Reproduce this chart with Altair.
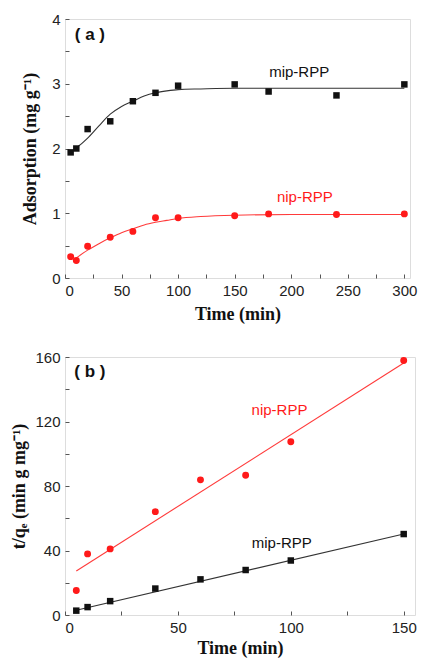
import altair as alt
import pandas as pd

# ---------------- Panel (a) data ----------------
a_time = [5, 10, 20, 40, 60, 80, 100, 150, 180, 240, 300]
a_mip = [1.94, 2.00, 2.30, 2.42, 2.73, 2.86, 2.97, 2.99, 2.88, 2.82, 2.99]
a_nip = [0.33, 0.27, 0.49, 0.63, 0.72, 0.93, 0.93, 0.96, 0.99, 0.98, 0.99]

a_mip_fit_x = [8, 10, 15, 20, 30, 40, 50, 60, 70, 80, 90, 100, 120, 150, 200, 300]
a_mip_fit_y = [1.98, 2.01, 2.08, 2.16, 2.35, 2.53, 2.65, 2.73, 2.81, 2.86, 2.89, 2.91, 2.92, 2.93, 2.93, 2.93]
a_nip_fit_x = [10, 20, 30, 40, 50, 60, 70, 80, 90, 100, 120, 150, 200, 300]
a_nip_fit_y = [0.31, 0.43, 0.53, 0.62, 0.70, 0.76, 0.82, 0.86, 0.89, 0.92, 0.95, 0.97, 0.98, 0.98]

# ---------------- Panel (b) data ----------------
b_time = [5, 10, 20, 40, 60, 80, 100, 150]
b_mip = [2.7, 4.9, 8.6, 16.4, 22.1, 27.9, 33.8, 50.2]
b_nip = [15.2, 37.9, 41.0, 64.1, 83.8, 86.7, 107.4, 157.8]
b_mip_fit_x = [5, 150]
b_mip_fit_y = [3.0, 50.2]
b_nip_fit_x = [5, 150]
b_nip_fit_y = [27.3, 156.3]

series_names = ["mip-RPP", "nip-RPP"]
a_label_x = [207, 212]
a_label_y = [3.18, 1.25]
b_label_x = [96, 95]
b_label_y = [44.7, 127.2]

BLACK = "#111111"
RED = "#ff1a1a"
LINE_BLACK = "#333333"
LINE_RED = "#ff3a3a"
FRAME = "#555555"
SANS = "Liberation Sans"
SERIF = "Liberation Serif"


def panel(time, mip, nip, mfx, mfy, nfx, nfy, lab_x, lab_y, tag, tag_x, tag_y,
          xdom, ydom, xlab_vals, xtick_vals, ylab_vals, ytick_vals,
          ytitle, W, H, ytitle_pad, xtitle_pad):
    pts_m = pd.DataFrame({"t": time, "v": mip})
    pts_n = pd.DataFrame({"t": time, "v": nip})
    fit_m = pd.DataFrame({"t": mfx, "v": mfy})
    fit_n = pd.DataFrame({"t": nfx, "v": nfy})
    labs = pd.DataFrame({"t": lab_x, "v": lab_y, "name": series_names,
                         "c": [BLACK, RED]})
    tagdf = pd.DataFrame({"t": [tag_x], "v": [tag_y], "name": [tag]})

    xs = alt.Scale(domain=xdom, nice=False, zero=False)
    ys = alt.Scale(domain=ydom, nice=False, zero=False)

    main_x = alt.X("t:Q", scale=xs, axis=alt.Axis(
        orient="bottom", values=xlab_vals, ticks=False, domain=False, grid=False,
        title="Time (min)", titleFont=SERIF, titleFontWeight="bold", titleFontSize=18,
        titleColor="#111", titlePadding=xtitle_pad,
        labelFont=SANS, labelFontSize=15, labelColor="#222", labelPadding=5,
        format="d"))
    main_y = alt.Y("v:Q", scale=ys, axis=alt.Axis(
        orient="left", values=ylab_vals, ticks=False, domain=False, grid=False,
        title=ytitle, titleFont=SERIF, titleFontWeight="bold", titleFontSize=18,
        titleColor="#111", titlePadding=ytitle_pad,
        labelFont=SANS, labelFontSize=15, labelColor="#222", labelPadding=5))

    tick_x = alt.X("t:Q", scale=xs, axis=alt.Axis(
        orient="top", offset=-H, values=xtick_vals, labels=False, domain=False,
        grid=False, title=None, tickSize=4, tickColor=FRAME, tickWidth=1))
    tick_y = alt.Y("v:Q", scale=ys, axis=alt.Axis(
        orient="right", offset=-W, values=ytick_vals, labels=False, domain=False,
        grid=False, title=None, tickSize=4, tickColor=FRAME, tickWidth=1))

    nx = alt.X("t:Q", scale=xs, axis=None)
    ny = alt.Y("v:Q", scale=ys, axis=None)

    line_m = alt.Chart(fit_m).mark_line(color=LINE_BLACK, strokeWidth=1.1,
                                        interpolate="monotone").encode(x=main_x, y=main_y)
    line_n = alt.Chart(fit_n).mark_line(color=LINE_RED, strokeWidth=1.1,
                                        interpolate="monotone").encode(x=nx, y=ny)
    p_m = alt.Chart(pts_m).mark_square(color=BLACK, opacity=1, size=42).encode(
        x=nx, y=ny)
    p_n = alt.Chart(pts_n).mark_circle(color=RED, opacity=1, size=48).encode(
        x=nx, y=ny)
    txt = alt.Chart(labs).mark_text(font=SANS, fontSize=15).encode(
        x=nx, y=ny, text="name:N", color=alt.Color("c:N", scale=None))
    tagt = alt.Chart(tagdf).mark_text(font=SANS, fontSize=17, fontWeight="bold",
                                      color="#111").encode(x=nx, y=ny, text="name:N")
    ticks_layer = alt.Chart(pts_m).mark_point(opacity=0).encode(x=tick_x, y=tick_y)

    return alt.layer(line_m, line_n, p_m, p_n, txt, tagt, ticks_layer).resolve_axis(
        x="independent", y="independent").properties(width=W, height=H)


pa = panel(a_time, a_mip, a_nip, a_mip_fit_x, a_mip_fit_y, a_nip_fit_x, a_nip_fit_y,
           a_label_x, a_label_y, "( a )", 22, 3.75,
           [0, 305], [0, 4], [0, 50, 100, 150, 200, 250, 300],
           list(range(0, 301, 25)), [0, 1, 2, 3, 4],
           [0, 0.5, 1, 1.5, 2, 2.5, 3, 3.5, 4],
           "Adsorption (mg g⁻¹)", 345, 259, 12, 7)

pb = panel(b_time, b_mip, b_nip, b_mip_fit_x, b_mip_fit_y, b_nip_fit_x, b_nip_fit_y,
           b_label_x, b_label_y, "( b )", 11, 151,
           [0, 155], [0, 160], [0, 50, 100, 150],
           list(range(0, 151, 25)), [0, 40, 80, 120, 160],
           list(range(0, 161, 20)),
           "t/qₑ (min g mg⁻¹)", 350, 258, 6, 4)

chart = alt.vconcat(pa, pb, spacing=25).properties(
    padding={"left": 2, "top": 3, "right": 0, "bottom": 0}
).configure_view(stroke=FRAME, strokeWidth=1.2).configure(background="white")

chart.save("out.html", embed_options={"renderer": "svg", "actions": False})
